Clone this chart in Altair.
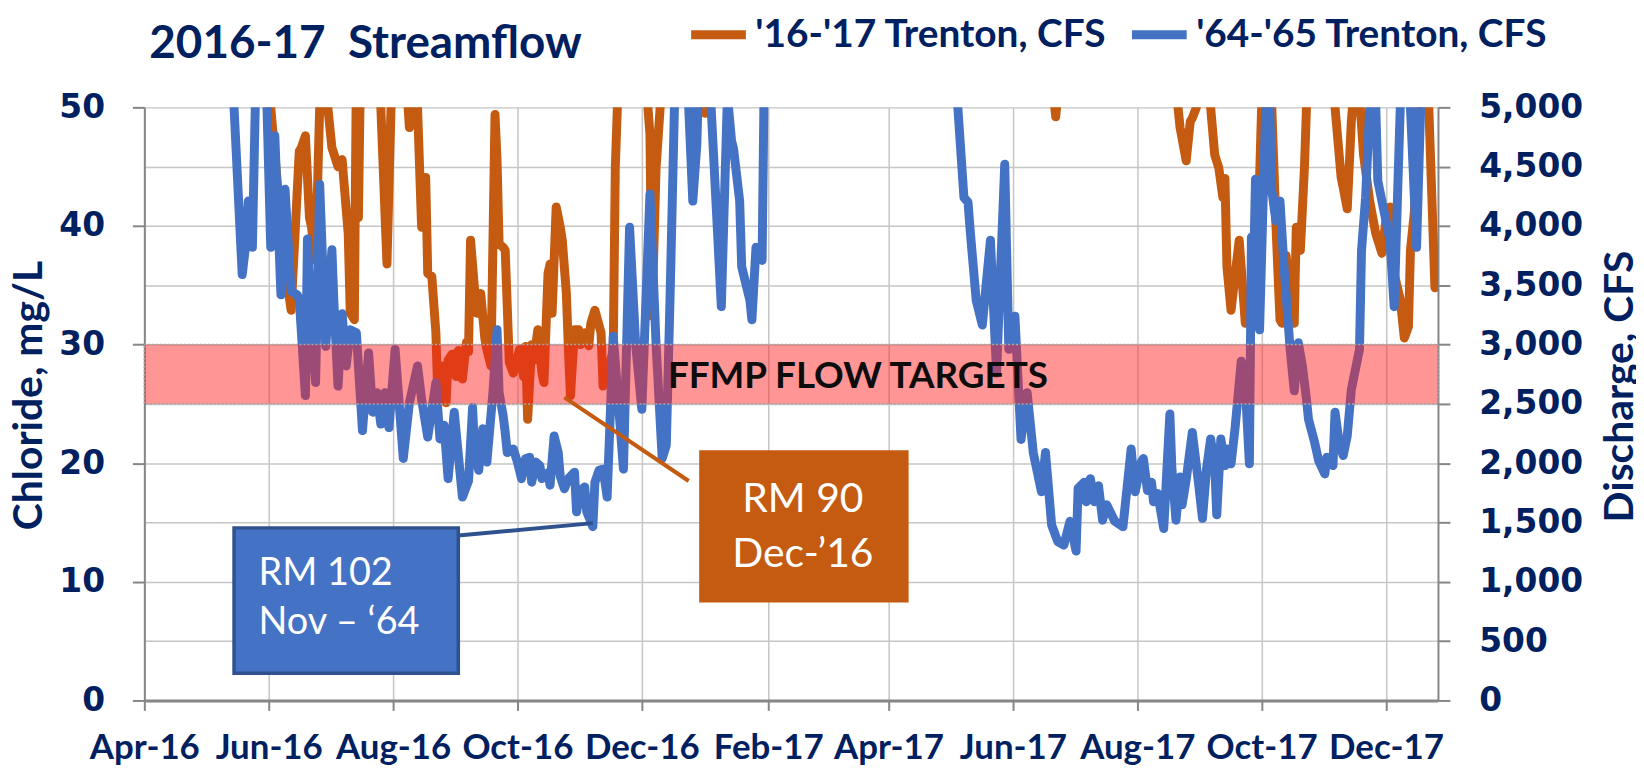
import altair as alt
import pandas as pd

# ---------------- data ----------------
SERIES_2016 = "'16-'17 Trenton, CFS"
SERIES_1964 = "'64-'65 Trenton, CFS"

orange_dates = [
    "2016-04-01", "2016-05-31", "2016-06-02", "2016-06-06", "2016-06-09", "2016-06-12", "2016-06-16",
    "2016-06-17", "2016-06-19", "2016-06-21", "2016-06-22", "2016-06-24", "2016-06-26", "2016-06-28",
    "2016-06-30", "2016-07-02", "2016-07-05", "2016-07-07", "2016-07-10", "2016-07-11", "2016-07-13",
    "2016-07-14", "2016-07-15", "2016-07-16", "2016-07-22", "2016-07-26", "2016-07-29", "2016-07-31",
    "2016-08-03", "2016-08-08", "2016-08-09", "2016-08-10", "2016-08-12", "2016-08-13", "2016-08-15",
    "2016-08-17", "2016-08-18", "2016-08-20", "2016-08-22", "2016-08-23", "2016-08-25", "2016-08-27",
    "2016-08-28", "2016-08-30", "2016-09-01", "2016-09-02", "2016-09-04", "2016-09-06", "2016-09-07",
    "2016-09-08", "2016-09-10", "2016-09-11", "2016-09-13", "2016-09-15", "2016-09-16", "2016-09-18",
    "2016-09-20", "2016-09-21", "2016-09-22", "2016-09-24", "2016-09-25", "2016-09-27", "2016-09-29",
    "2016-09-30", "2016-10-02", "2016-10-04", "2016-10-05", "2016-10-06", "2016-10-08", "2016-10-09",
    "2016-10-11", "2016-10-13", "2016-10-14", "2016-10-16", "2016-10-17", "2016-10-18", "2016-10-20",
    "2016-10-22", "2016-10-23", "2016-10-25", "2016-10-26", "2016-10-27", "2016-10-29", "2016-10-31",
    "2016-11-01", "2016-11-03", "2016-11-05", "2016-11-06", "2016-11-08", "2016-11-11", "2016-11-12",
    "2016-11-14", "2016-11-17", "2016-11-18", "2016-11-19", "2016-11-25", "2016-12-04", "2016-12-05",
    "2016-12-06", "2016-12-08", "2016-12-10", "2016-12-20", "2016-12-31", "2017-01-01", "2017-01-02",
    "2017-02-01", "2017-04-01", "2017-06-01", "2017-06-21", "2017-06-22", "2017-06-23", "2017-08-01",
    "2017-08-21", "2017-08-22", "2017-08-25", "2017-08-27", "2017-08-28", "2017-08-30", "2017-09-02",
    "2017-09-06", "2017-09-08", "2017-09-10", "2017-09-12", "2017-09-13", "2017-09-14", "2017-09-16",
    "2017-09-20", "2017-09-23", "2017-09-25", "2017-09-26", "2017-09-28", "2017-10-01", "2017-10-03",
    "2017-10-06", "2017-10-08", "2017-10-10", "2017-10-11", "2017-10-13", "2017-10-15", "2017-10-17",
    "2017-10-18", "2017-10-20", "2017-10-22", "2017-10-23", "2017-11-01", "2017-11-06", "2017-11-09",
    "2017-11-10", "2017-11-12", "2017-11-14", "2017-11-15", "2017-11-18", "2017-11-20", "2017-11-23",
    "2017-11-26", "2017-11-27", "2017-11-29", "2017-12-01", "2017-12-03", "2017-12-05", "2017-12-08",
    "2017-12-10", "2017-12-12", "2017-12-13", "2017-12-15", "2017-12-17", "2017-12-20", "2017-12-22",
    "2017-12-25",
]
orange_cfs = [
    9000, 7000, 5000, 4210, 3650, 3290, 4630,
    4660, 4760, 4070, 3990, 3710, 5000, 6500,
    5000, 4660, 4500, 4560, 3935, 3265, 3210,
    5300, 4070, 5300, 7000, 5000, 3680, 5000,
    7000, 5100, 4830, 5300, 6000, 5000, 3990,
    4410, 3600, 3575, 3100, 2540, 2820, 2510,
    2870, 2920, 2730, 2950, 2710, 3020, 2940,
    3880, 3460, 3265, 3430, 3050, 2960, 2820,
    4940, 4550, 3850, 3820, 3795, 2850, 2760,
    2820, 2960, 2730, 2985, 2370, 3000, 2870,
    3125, 2760, 2680, 3600, 3680, 3265, 4160,
    3990, 3880, 3430, 2960, 2570, 3125, 3125,
    3000, 3100, 2990, 3180, 3290, 3100, 2650,
    2730, 2960, 4490, 5000, 9000, 5000, 4770,
    3240, 4490, 5000, 9000, 5100, 4950, 5100,
    12000, 15000, 9000, 5100, 4920, 5100, 8000,
    5000, 4830, 4550, 4880, 4910, 5000, 5500,
    5000, 4600, 4490, 4240, 4400, 3655, 3290,
    3880, 3180, 3210, 3380, 3210, 5000, 6000,
    5000, 4020, 3210, 3180, 3750, 3405, 3180,
    3990, 3795, 4490, 5000, 8000, 5000, 4410,
    4325, 4145, 4880, 5100, 5100, 4600, 4210,
    3935, 3880, 3770, 4050, 4160, 3600, 3380,
    3055, 3150, 3795, 4130, 5000, 6000, 5000,
    3480,
]

blue_dates = [
    "2016-04-01", "2016-05-11", "2016-05-15", "2016-05-19", "2016-05-21", "2016-05-22", "2016-05-24",
    "2016-05-26", "2016-05-29", "2016-05-31", "2016-06-02", "2016-06-04", "2016-06-07", "2016-06-09",
    "2016-06-12", "2016-06-15", "2016-06-16", "2016-06-19", "2016-06-20", "2016-06-22", "2016-06-24",
    "2016-06-26", "2016-06-29", "2016-07-02", "2016-07-03", "2016-07-05", "2016-07-07", "2016-07-09",
    "2016-07-11", "2016-07-14", "2016-07-17", "2016-07-20", "2016-07-22", "2016-07-24", "2016-07-26",
    "2016-07-28", "2016-07-30", "2016-08-02", "2016-08-06", "2016-08-09", "2016-08-13", "2016-08-15",
    "2016-08-18", "2016-08-22", "2016-08-24", "2016-08-26", "2016-08-28", "2016-08-31", "2016-09-04",
    "2016-09-07", "2016-09-09", "2016-09-10", "2016-09-12", "2016-09-14", "2016-09-16", "2016-09-17",
    "2016-09-19", "2016-09-21", "2016-09-22", "2016-09-24", "2016-09-25", "2016-09-26", "2016-09-29",
    "2016-10-01", "2016-10-03", "2016-10-05", "2016-10-07", "2016-10-08", "2016-10-10", "2016-10-12",
    "2016-10-13", "2016-10-16", "2016-10-17", "2016-10-19", "2016-10-21", "2016-10-22", "2016-10-24",
    "2016-10-26", "2016-10-29", "2016-10-30", "2016-11-01", "2016-11-03", "2016-11-04", "2016-11-07",
    "2016-11-08", "2016-11-10", "2016-11-12", "2016-11-14", "2016-11-17", "2016-11-22", "2016-11-25",
    "2016-11-28", "2016-12-01", "2016-12-05", "2016-12-08", "2016-12-11", "2016-12-13", "2016-12-15",
    "2016-12-17", "2016-12-19", "2016-12-23", "2016-12-24", "2016-12-26", "2016-12-28", "2016-12-30",
    "2017-01-03", "2017-01-04", "2017-01-09", "2017-01-12", "2017-01-14", "2017-01-15", "2017-01-18",
    "2017-01-19", "2017-01-23", "2017-01-24", "2017-01-26", "2017-01-29", "2017-01-30", "2017-02-05",
    "2017-03-15", "2017-04-20", "2017-05-03", "2017-05-05", "2017-05-08", "2017-05-10", "2017-05-11",
    "2017-05-14", "2017-05-17", "2017-05-21", "2017-05-24", "2017-05-28", "2017-05-30", "2017-06-02",
    "2017-06-05", "2017-06-08", "2017-06-11", "2017-06-15", "2017-06-17", "2017-06-20", "2017-06-23",
    "2017-06-26", "2017-06-29", "2017-07-02", "2017-07-03", "2017-07-06", "2017-07-07", "2017-07-09",
    "2017-07-11", "2017-07-13", "2017-07-15", "2017-07-17", "2017-07-21", "2017-07-25", "2017-07-29",
    "2017-07-31", "2017-08-03", "2017-08-04", "2017-08-06", "2017-08-08", "2017-08-09", "2017-08-11",
    "2017-08-14", "2017-08-17", "2017-08-18", "2017-08-20", "2017-08-22", "2017-08-23", "2017-08-25",
    "2017-08-28", "2017-08-31", "2017-09-02", "2017-09-04", "2017-09-06", "2017-09-08", "2017-09-09",
    "2017-09-11", "2017-09-13", "2017-09-14", "2017-09-16", "2017-09-18", "2017-09-19", "2017-09-21",
    "2017-09-23", "2017-09-25", "2017-09-26", "2017-09-27", "2017-09-28", "2017-09-29", "2017-09-30",
    "2017-10-03", "2017-10-04", "2017-10-05", "2017-10-06", "2017-10-08", "2017-10-10", "2017-10-12",
    "2017-10-15", "2017-10-17", "2017-10-19", "2017-10-21", "2017-10-23", "2017-10-24", "2017-10-27",
    "2017-10-29", "2017-11-01", "2017-11-02", "2017-11-05", "2017-11-06", "2017-11-08", "2017-11-10",
    "2017-11-12", "2017-11-14", "2017-11-18", "2017-11-19", "2017-11-21", "2017-11-23", "2017-11-24",
    "2017-11-26", "2017-11-27", "2017-11-30", "2017-12-03", "2017-12-05", "2017-12-08", "2017-12-10",
    "2017-12-13", "2017-12-16", "2017-12-18", "2017-12-20", "2017-12-26",
]
blue_cfs = [
    10000, 7500, 5000, 3590, 3880, 4210, 3820,
    5500, 8000, 5100, 3820, 4760, 3420, 4310,
    3450, 3420, 3380, 2570, 3890, 3100, 2680,
    4350, 2985, 3800, 3350, 2650, 3260, 2820,
    3125, 3100, 2275, 2930, 2430, 2595, 2330,
    2595, 2300, 2960, 2040, 2510, 2820, 2540,
    2220, 2680, 2205, 2320, 1870, 2430, 1715,
    1850, 2470, 2100, 1940, 2290, 2010, 2205,
    2600, 3125, 2595, 2400, 2260, 2090, 2120,
    2010, 1870, 2040, 2050, 1840, 2010, 1980,
    1870, 1920, 1815, 2230, 2090, 1890, 1785,
    1870, 1925, 1590, 1770, 1800, 1590, 1465,
    1840, 1940, 1950, 1715, 3070, 1950, 3990,
    3000, 2455, 4270, 3000, 2040, 2150, 3500,
    5000, 9000, 6000, 5000, 4210, 4690, 6000,
    6000, 5000, 3320, 5100, 4720, 4650, 4210,
    3655, 3375, 3210, 3820, 3710, 5200, 9000,
    15000, 9000, 6000, 5000, 4240, 4200, 3975,
    3375, 3165, 3880, 2760, 4520, 2960, 3240,
    2200, 2595, 2090, 1760, 2090, 1480, 1340,
    1310, 1510, 1260, 1790, 1840, 1675, 1870,
    1675, 1810, 1520, 1650, 1510, 1465, 2120,
    1760, 2010, 2040, 1770, 1840, 1675, 1745,
    1450, 2415, 1955, 1520, 1885, 1650, 1860,
    2260, 1840, 1535, 1955, 2205, 1980, 1565,
    2205, 1980, 2120, 1995, 2300, 2485, 2860,
    2650, 1995, 3905, 3570, 4395, 3240, 3125,
    5000, 5300, 5000, 4300, 4045, 4210, 3655,
    2960, 2610, 3015, 2820, 2540, 2370, 2175,
    2020, 1910, 2050, 1980, 2430, 2180, 2065,
    2230, 2620, 2960, 3795, 4240, 5000, 5400,
    5000, 4380, 4125, 3880, 3320, 5000, 7000,
    5000, 3820, 5000, 7000, 8000,
]

tick_months = [
    "2016-04-01", "2016-06-01", "2016-08-01", "2016-10-01", "2016-12-01", "2017-02-01",
    "2017-04-01", "2017-06-01", "2017-08-01", "2017-10-01", "2017-12-01",
]
x_start, x_end = "2016-04-01", "2017-12-26"

chloride_ticks = [0, 10, 20, 30, 40, 50]
discharge_ticks = [0, 500, 1000, 1500, 2000, 2500, 3000, 3500, 4000, 4500, 5000]

band_low = [25]          # mg/L  (= 2,500 CFS)
band_high = [30]         # mg/L  (= 3,000 CFS)
band_label = ["FFMP FLOW TARGETS"]
band_label_date = ["2017-03-17"]
band_label_level = [27.3]

# annotation boxes (date span, CFS span), their text and callout lines
blue_box = {"date": ["2016-05-15"], "date2": ["2016-09-02"], "lo": [230], "hi": [1455]}
orange_box = {"date": ["2016-12-30"], "date2": ["2017-04-10"], "lo": [840], "hi": [2095]}

blue_text_lines = ["RM 102", "Nov \u2013 \u201864"]
blue_text_date = ["2016-05-27", "2016-05-27"]
blue_text_cfs = [1065, 650]

orange_text_lines = ["RM 90", "Dec-\u201916"]
orange_text_date = ["2017-02-18", "2017-02-18"]
orange_text_cfs = [1690, 1230]

blue_callout = {"date": ["2016-09-02"], "cfs": [1390], "date2": ["2016-11-07"], "cfs2": [1495]}
orange_callout = {"date": ["2016-10-24"], "cfs": [2555], "date2": ["2016-12-24"], "cfs2": [1850]}

title_text = "2016-17\u00a0\u00a0Streamflow"

# ---------------- style ----------------
W, H = 1300, 596
NAVY = "#002060"
ORANGE = "#C55A11"
BLUE = "#4472C4"
BLUE_DARK = "#2F528F"
AXIS_GRAY = "#868686"
GRID_GRAY = "#C6C6C6"
TEXT_FONT = "Lato"
NUM_FONT = "DejaVu Sans"
LINE_W = 9


def dt(s, hours=0):
    y, m, d = (int(v) for v in s.split("-"))
    return alt.DateTime(year=y, month=m, date=d, hours=hours, utc=True)


x_scale = alt.Scale(type="utc", domain=[dt(x_start), dt(x_end, 12)])
x_axis = alt.Axis(
    values=[dt(s) for s in tick_months], format="%b-%y", title=None,
    labelFont=TEXT_FONT, labelFontWeight="bold", labelFontSize=35, labelColor=NAVY,
    labelPadding=20, labelOverlap=False, labelFlush=False, labelBound=False,
    tickSize=10, tickColor=AXIS_GRAY, tickWidth=2,
    domainColor=AXIS_GRAY, domainWidth=3,
    grid=True, gridColor=GRID_GRAY, gridWidth=1.5,
)


def X(field="date"):
    return alt.X(f"{field}:T", scale=x_scale, axis=x_axis)


cfs_scale = alt.Scale(domain=[0, 5000], nice=False, zero=True)
chl_scale = alt.Scale(domain=[0, 50], nice=False, zero=True)

right_axis = alt.Axis(
    orient="right", values=discharge_ticks, format=",d",
    labelFont=NUM_FONT, labelFontWeight="bold", labelFontSize=33, labelColor=NAVY,
    labelPadding=29, tickSize=12, tickColor=AXIS_GRAY, tickWidth=2,
    domainColor=AXIS_GRAY, domainWidth=2,
    grid=True, gridColor=GRID_GRAY, gridWidth=1.5,
    title="Discharge, CFS", titleFont=TEXT_FONT, titleFontWeight="bold", titleFontSize=41,
    titleColor=NAVY, titleAngle=270, titleX=183, titleY=280, titleAlign="center",
    titleBaseline="middle",
)
left_axis = alt.Axis(
    orient="left", values=chloride_ticks, format="d",
    labelFont=NUM_FONT, labelFontWeight="bold", labelFontSize=33, labelColor=NAVY,
    labelPadding=28, tickSize=12, tickColor=AXIS_GRAY, tickWidth=2,
    domainColor=AXIS_GRAY, domainWidth=2, grid=False,
    title="Chloride, mg/L", titleFont=TEXT_FONT, titleFontWeight="bold", titleFontSize=41,
    titleColor=NAVY, titleAngle=270, titleX=-115, titleY=289, titleAlign="center",
    titleBaseline="middle",
)

color_scale = alt.Scale(domain=[SERIES_2016, SERIES_1964], range=[ORANGE, BLUE])
legend = alt.Legend(
    orient="none", legendX=545, legendY=-105, direction="horizontal", title=None,
    symbolType="stroke", symbolStrokeWidth=LINE_W, symbolSize=3025,
    labelFont=TEXT_FONT, labelFontWeight="bold", labelFontSize=39, labelColor=NAVY,
    labelLimit=1000, labelOffset=5, columnPadding=6, padding=0,
)

# ---------------- layers ----------------
orange_df = pd.DataFrame({"date": orange_dates, "cfs": orange_cfs, "series": SERIES_2016})
blue_df = pd.DataFrame({"date": blue_dates, "cfs": blue_cfs, "series": SERIES_1964})

line_kw = dict(clip=True, strokeWidth=LINE_W, strokeJoin="round", strokeCap="round")
orange_line = alt.Chart(orange_df).mark_line(**line_kw).encode(
    x=X(), y=alt.Y("cfs:Q", scale=cfs_scale, axis=right_axis),
    color=alt.Color("series:N", scale=color_scale, legend=legend),
    strokeWidth=alt.value(LINE_W),
)
blue_line = alt.Chart(blue_df).mark_line(**line_kw).encode(
    x=X(), y=alt.Y("cfs:Q", scale=cfs_scale, axis=None),
    color=alt.Color("series:N", scale=color_scale, legend=legend),
    strokeWidth=alt.value(LINE_W),
)

band_df = pd.DataFrame({"lo": band_low, "hi": band_high})
band = alt.Chart(band_df).mark_rect(
    fill="#FF1E1E", fillOpacity=0.47, stroke="#A8A8A8", strokeDash=[2, 2], strokeWidth=1.5,
).encode(
    x=alt.value(0), x2=alt.value(W),
    y=alt.Y("lo:Q", scale=chl_scale, axis=left_axis), y2="hi:Q",
)

band_text_df = pd.DataFrame({"date": band_label_date, "level": band_label_level, "label": band_label})
band_text = alt.Chart(band_text_df).mark_text(
    font=TEXT_FONT, fontWeight="bold", fontSize=37, color="#0D0D0D", align="center", baseline="middle",
).encode(x=X(), y=alt.Y("level:Q", scale=chl_scale, axis=None), text="label:N")


def callout(spec, color):
    return alt.Chart(pd.DataFrame(spec)).mark_rule(strokeWidth=4, color=color).encode(
        x=X(), x2="date2:T",
        y=alt.Y("cfs:Q", scale=cfs_scale, axis=None), y2="cfs2:Q",
    )


def box(spec, fill, stroke):
    return alt.Chart(pd.DataFrame(spec)).mark_rect(fill=fill, stroke=stroke, strokeWidth=3.5).encode(
        x=X(), x2="date2:T",
        y=alt.Y("lo:Q", scale=cfs_scale, axis=None), y2="hi:Q",
    )


blue_text_df = pd.DataFrame({"date": blue_text_date, "cfs": blue_text_cfs, "label": blue_text_lines})
blue_text = alt.Chart(blue_text_df).mark_text(
    font=TEXT_FONT, fontSize=38, color="white", align="left", baseline="middle",
).encode(x=X(), y=alt.Y("cfs:Q", scale=cfs_scale, axis=None), text="label:N")

orange_text_df = pd.DataFrame({"date": orange_text_date, "cfs": orange_text_cfs, "label": orange_text_lines})
orange_text = alt.Chart(orange_text_df).mark_text(
    font=TEXT_FONT, fontSize=41, color="white", align="center", baseline="middle",
).encode(x=X(), y=alt.Y("cfs:Q", scale=cfs_scale, axis=None), text="label:N")

title = alt.Chart(pd.DataFrame({"t": [title_text]})).mark_text(
    font=TEXT_FONT, fontWeight="bold", fontSize=46, color=NAVY, align="left", baseline="alphabetic",
).encode(x=alt.value(5), y=alt.value(-50), text="t:N")

chart = alt.layer(
    orange_line, blue_line, band, band_text,
    callout(blue_callout, BLUE_DARK), callout(orange_callout, ORANGE),
    box(blue_box, BLUE, BLUE_DARK), box(orange_box, ORANGE, ORANGE),
    blue_text, orange_text, title,
).resolve_scale(
    y="independent"
).properties(
    width=W, height=H,
    autosize=alt.AutoSizeParams(type="none"),
    padding={"left": 137, "top": 98, "right": 199, "bottom": 64},
    background="white",
).configure_view(stroke=None)

chart.save("out.html", embed_options={"renderer": "svg", "actions": False})
